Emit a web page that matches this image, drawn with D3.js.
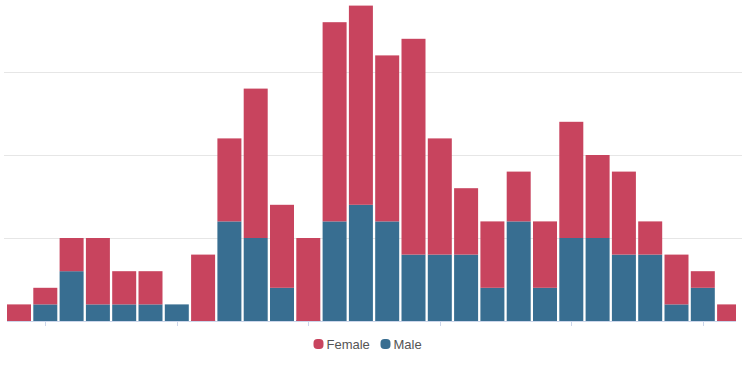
<!DOCTYPE html>
<html>
<head>
<meta charset="utf-8">
<script src="https://cdn.jsdelivr.net/npm/d3@7"></script>
<style>
  html, body { margin: 0; padding: 0; background: #fff; }
  #chart { width: 742px; height: 372px; }
</style>
</head>
<body>
<div id="chart"></div>
<script>
// ── Data ────────────────────────────────────────────────────────────────────
const categories  = d3.range(1, 29);   // 28 consecutive buckets
const maleValues   = [0, 1, 3, 1, 1, 1, 1, 0, 6, 5, 2, 0, 6, 7, 6, 4, 4, 4, 2, 6, 2, 5, 5, 4, 4, 1, 2, 0];
const femaleValues = [1, 1, 2, 4, 2, 2, 0, 4, 5, 9, 5, 5, 12, 12, 10, 13, 7, 4, 4, 3, 4, 7, 5, 5, 2, 3, 1, 1];
const seriesNames  = ['Female', 'Male'];
const yTicks       = [0, 5, 10, 15, 20];
const xTickEvery   = 5;

const colors = { Female: '#c8445e', Male: '#386e91' };

// ── Layout ──────────────────────────────────────────────────────────────────
const W = 742, H = 372;
const plot = { left: 6, right: 736, bottom: 321 };
const step = 26.3;

const svg = d3.select('#chart').append('svg')
  .attr('width', W).attr('height', H)
  .style('font-family', '"Liberation Sans", Arial, Helvetica, sans-serif');

const x = d3.scaleLinear()
  .domain([0, categories.length])
  .range([plot.left, plot.left + step * categories.length]);

const y = d3.scaleLinear()
  .domain([0, 20])
  .range([plot.bottom, plot.bottom - 332]);

svg.append('defs').append('clipPath').attr('id', 'plot-clip')
  .append('rect')
  .attr('x', plot.left).attr('y', 0)
  .attr('width', plot.right - plot.left).attr('height', plot.bottom + 1);

// Gridlines
svg.append('g').selectAll('line')
  .data(yTicks.filter(t => t > 0))
  .join('line')
  .attr('x1', 4).attr('x2', W)
  .attr('y1', d => Math.round(y(d)) + .5)
  .attr('y2', d => Math.round(y(d)) + .5)
  .attr('stroke', '#e6e6e6')
  .attr('stroke-width', 1);

// Stacked bars
const rows = categories.map((c, i) => ({ i, Male: maleValues[i], Female: femaleValues[i] }));
const stacked = d3.stack().keys(['Male', 'Female'])(rows);

const bars = svg.append('g').attr('clip-path', 'url(#plot-clip)');

bars.selectAll('g')
  .data(stacked)
  .join('g')
  .attr('fill', s => colors[s.key])
  .selectAll('rect')
  .data(s => s.map(d => ({ key: s.key, i: d.data.i, y0: d[0], y1: d[1] })))
  .join('rect')
  .attr('x', d => x(d.i) + 1)
  .attr('width', d => x(d.i + 1) - x(d.i) - 2.3)
  .attr('y', d => {
    const h = y(d.y0) - y(d.y1);
    return d.key === 'Male' && h < 1 ? y(d.y0) - 1 : y(d.y1);
  })
  .attr('height', d => {
    const h = y(d.y0) - y(d.y1);
    return d.key === 'Male' ? Math.max(1, h) : h;
  });

// X axis line + ticks
svg.append('line')
  .attr('x1', plot.left + 1).attr('x2', plot.right)
  .attr('y1', plot.bottom + .5).attr('y2', plot.bottom + .5)
  .attr('stroke', '#ccd6eb');

svg.append('g').selectAll('line')
  .data(categories.filter((c, i) => i % xTickEvery === 1).map(c => c - 1))
  .join('line')
  .attr('x1', i => Math.round(x(i + .5)) + .5)
  .attr('x2', i => Math.round(x(i + .5)) + .5)
  .attr('y1', plot.bottom)
  .attr('y2', plot.bottom + 5)
  .attr('stroke', '#ccd6eb');

// Legend
const legend = svg.append('g').attr('transform', 'translate(0,344)');
const legendX = { Female: 318.5, Male: 385.5 };

const item = legend.selectAll('g')
  .data(seriesNames)
  .join('g')
  .attr('transform', d => `translate(${legendX[d]},0)`);

item.append('rect')
  .attr('x', -5).attr('y', -5)
  .attr('width', 10).attr('height', 10)
  .attr('rx', 4).attr('ry', 4)
  .attr('fill', d => colors[d]);

item.append('text')
  .attr('x', 8)
  .attr('dy', '.35em')
  .attr('font-size', 13)
  .attr('fill', '#555')
  .text(d => d);
</script>
</body>
</html>
